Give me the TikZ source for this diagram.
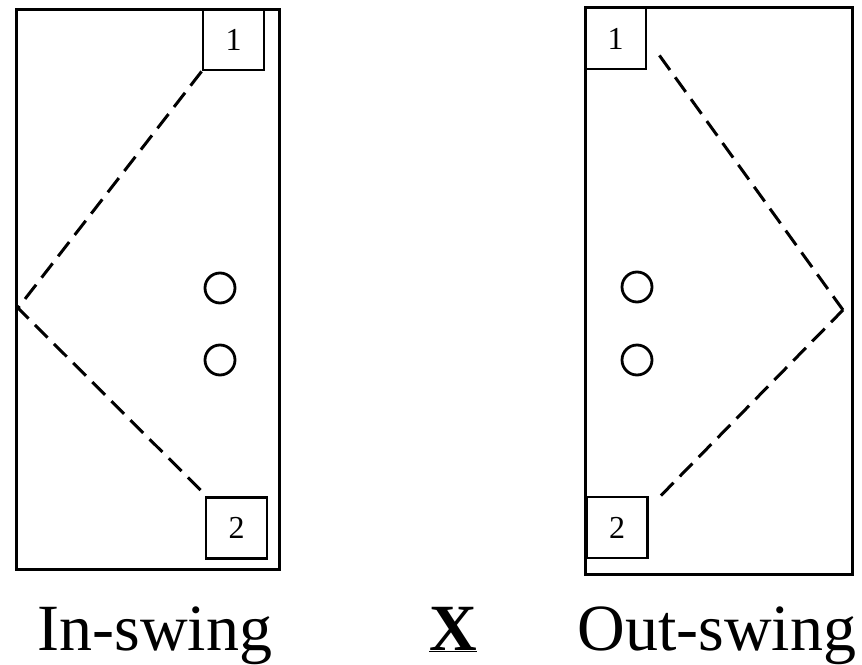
\documentclass[tikz,border=0pt]{standalone}
\usepackage{fontspec}
\setmainfont{Liberation Serif}
\usetikzlibrary{positioning}

\begin{document}
\begin{tikzpicture}[x=1pt, y=-1pt,
    door/.style={draw, line width=3pt, inner sep=0pt},
    hinge/.style={draw, line width=2.8pt, minimum width=61pt, minimum height=61pt,
      inner sep=0pt, font=\fontsize{32}{34}\selectfont},
    knob/.style={draw, circle, line width=2.8pt, minimum size=30pt, inner sep=0pt},
    swing/.style={line width=3pt, dash pattern=on 18pt off 9pt},
    caption/.style={anchor=base, font=\fontsize{66}{70}\selectfont}
  ]
    \useasboundingbox (0,0) rectangle (862,664);

    % in-swing door
    \node[door, minimum width=263pt, minimum height=560pt] (indoor) at (147.5,289) {};
    \node[hinge] (intop) at (233.5,39.5) {1};
    \node[hinge] (inbottom) at (236.5,528) {2};
    \node[knob] (inknobA) at (220,288) {};
    \node[knob] (inknobB) at (220,360) {};
    \coordinate (inapex) at (18,308);
    \draw[swing] (intop.south west) -- (inapex);
    \draw[swing] ([xshift=-4pt,yshift=6pt]inbottom.north west) -- (inapex);

    % out-swing door
    \node[door, minimum width=267pt, minimum height=567pt] (outdoor) at (718.5,290.5) {};
    \node[hinge] (outtop) at (615.5,38.5) {1};
    \node[hinge] (outbottom) at (617,527.5) {2};
    \node[knob] (outknobA) at (637,287) {};
    \node[knob] (outknobB) at (637,360) {};
    \coordinate (outapex) at (843,310);
    \draw[swing] ([xshift=12pt,yshift=15pt]outtop.south east) -- (outapex);
    \draw[swing] ([xshift=12pt]outbottom.north east) -- (outapex);

    % captions
    \node[caption] (inlabel) at (155,650) {In-swing};
    \node[caption] (versus) at (453,650) {\underline{\textbf{X}}};
    \node[caption] (outlabel) at (717,650) {Out-swing};
\end{tikzpicture}
\end{document}
